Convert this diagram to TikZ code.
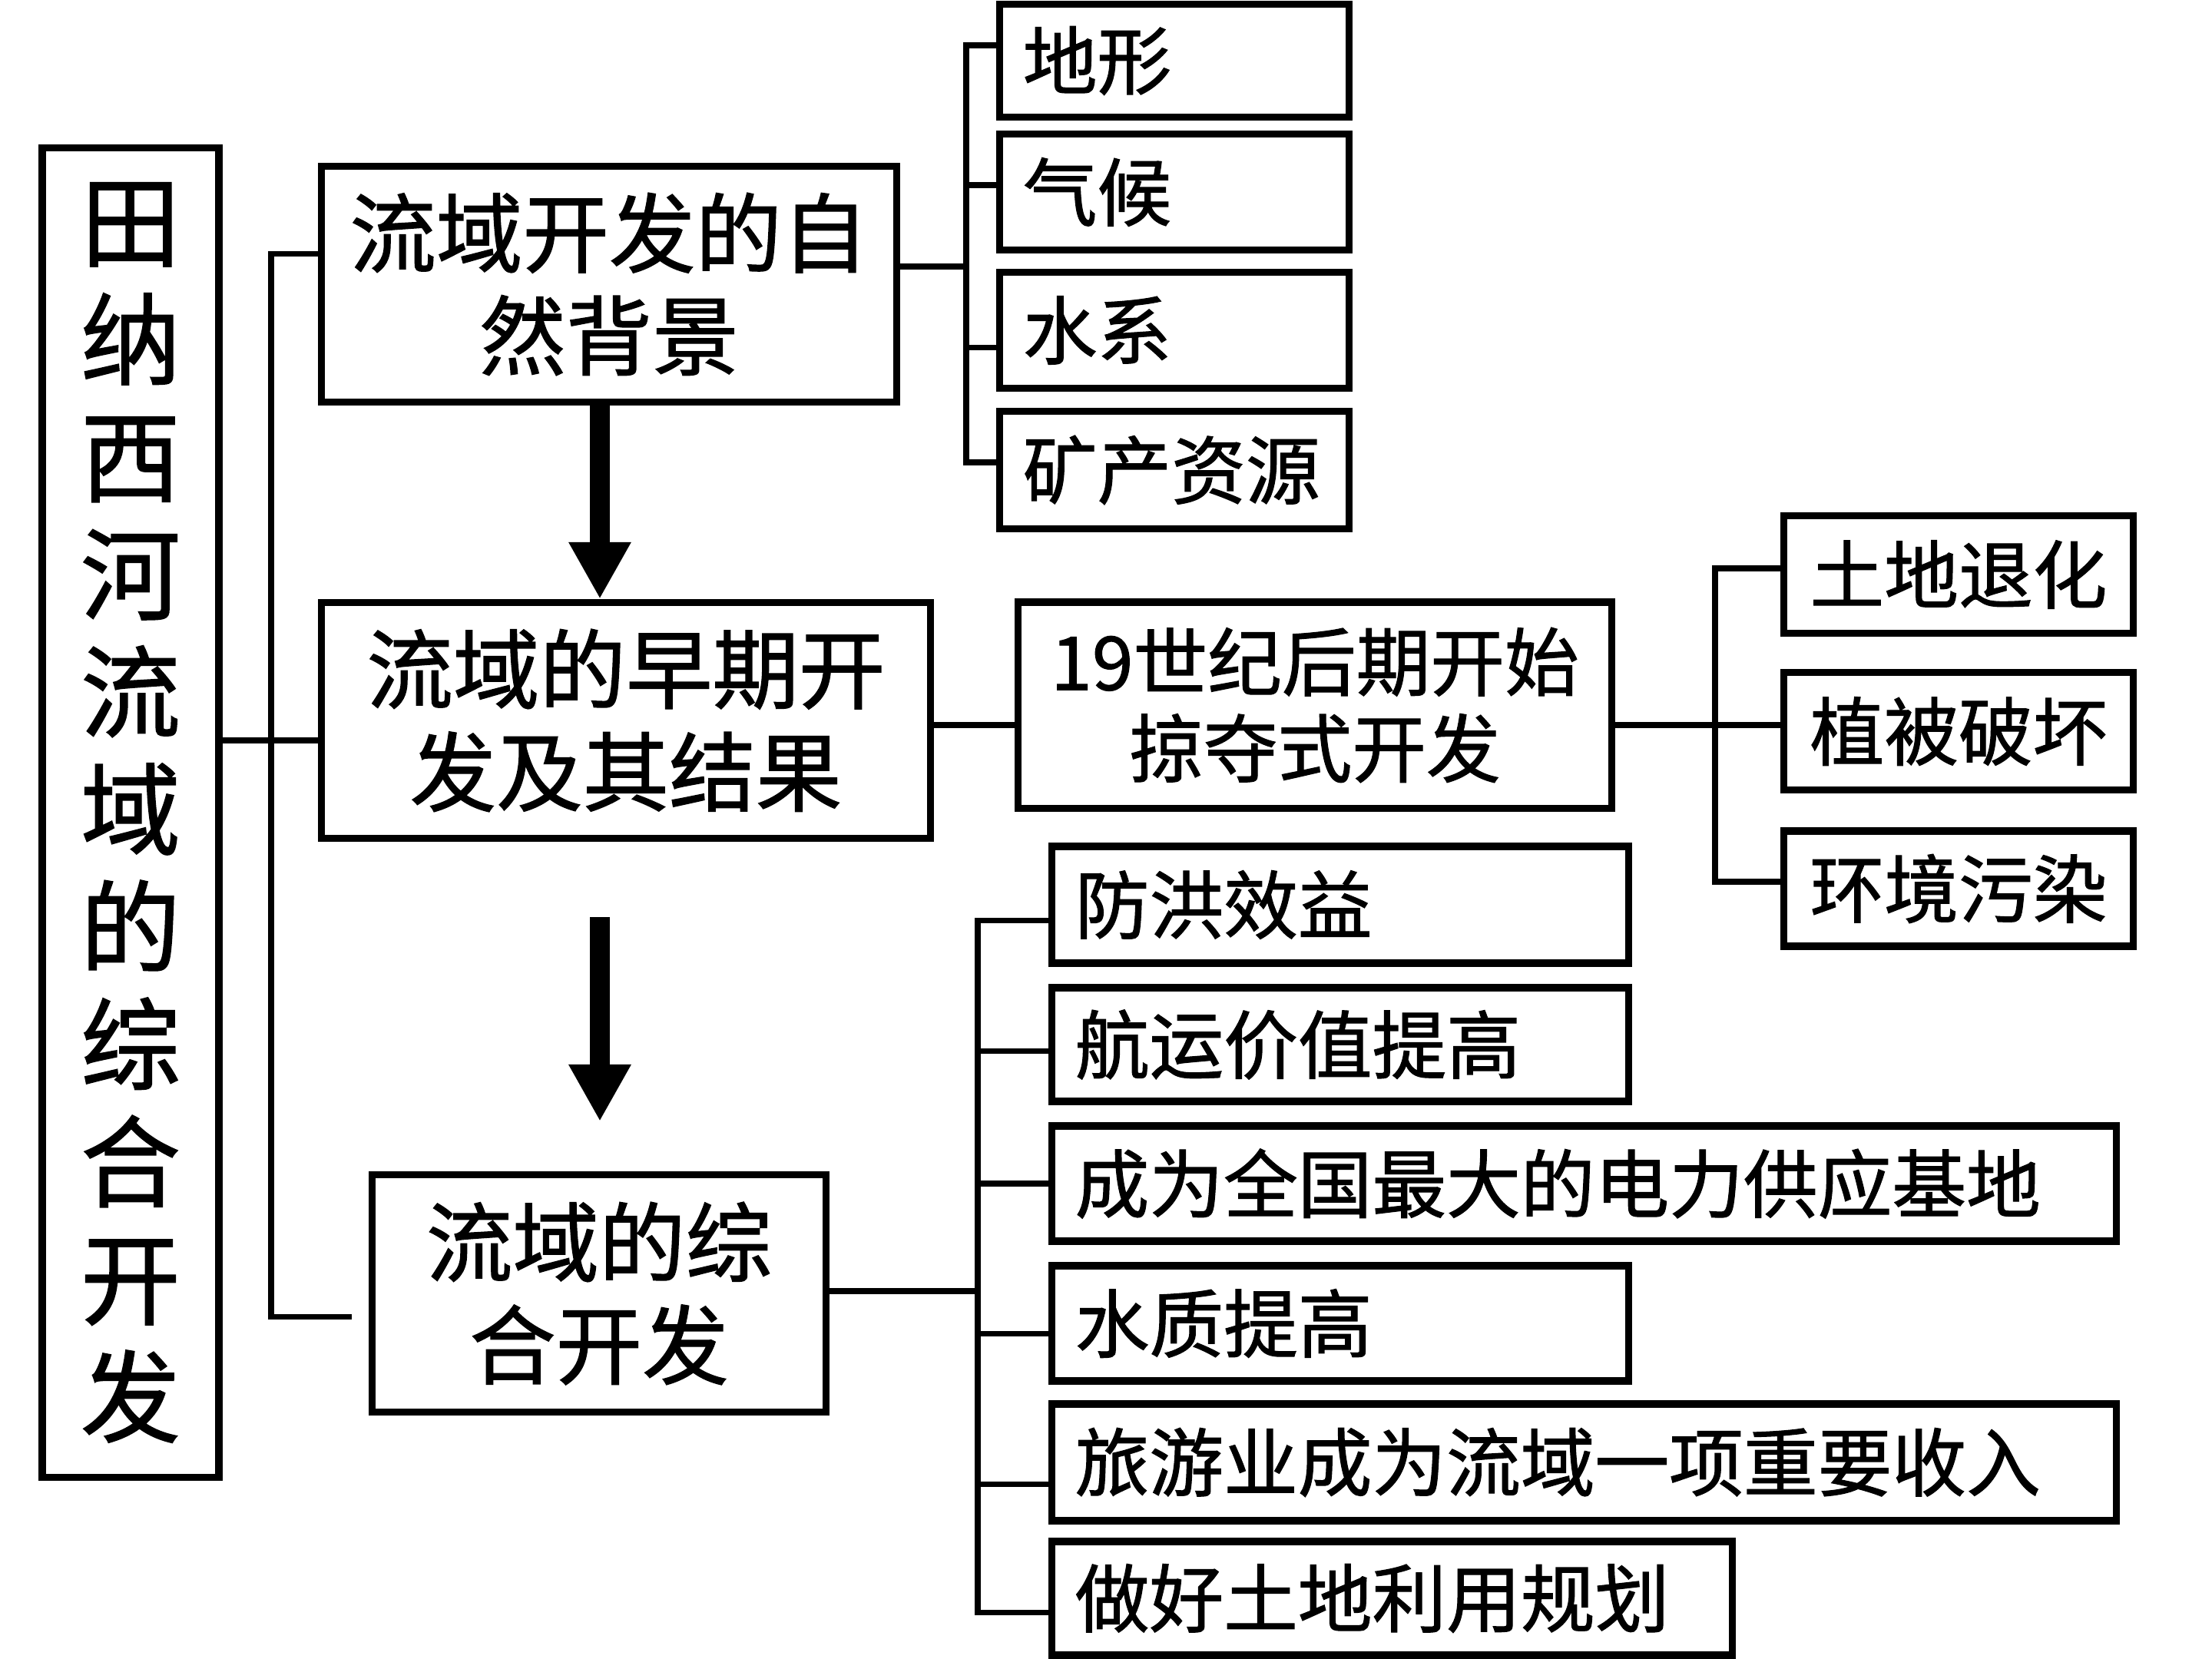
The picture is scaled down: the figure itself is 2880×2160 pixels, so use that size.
\documentclass[tikz,border=0pt]{standalone}
\usepackage{fontspec}
\newfontfamily\cjk{Noto Sans CJK SC}[FakeBold=1.2]
\usetikzlibrary{arrows.meta}
\begin{document}
\begin{tikzpicture}[x=0.01cm,y=-0.01cm,
  box/.style={draw,line width=2.6pt,inner sep=0pt,fill=white},
  mbox/.style={box,align=center,font=\cjk\fontsize{32}{38}\selectfont},
  lbox/.style={box,align=left,inner xsep=0.3cm,text width=#1,font=\cjk\fontsize{27.5}{32}\selectfont},
  cbox/.style={box,align=center,font=\cjk\fontsize{27.5}{32}\selectfont},
  conn/.style={draw,line width=2pt},
  bigarrow/.style={line width=7.2pt,-{Triangle[width=0.76cm,length=0.74cm]}}]
\useasboundingbox (0,0) rectangle (2880,2160);

% title
\node[box,minimum width=2.30cm,minimum height=17.30cm,align=center,
      font=\cjk\fontsize{37}{43.5}\selectfont] (title) at (170,1058)
  {田\\纳\\西\\河\\流\\域\\的\\综\\合\\开\\发};

% main boxes
\node[mbox,minimum width=7.49cm,minimum height=3.06cm] (b1) at (793,370) {流域开发的自\\然背景};
\node[mbox,minimum width=7.93cm,minimum height=3.07cm] (b2) at (815,938) {流域的早期开\\发及其结果};
\node[mbox,minimum width=5.91cm,minimum height=3.09cm] (b3) at (780,1684) {流域的综\\合开发};

% natural background
\node[lbox=3.94cm,minimum height=1.47cm] (dx) at (1529,79) {地形};
\node[lbox=3.94cm,minimum height=1.51cm] (qh) at (1529,250) {气候};
\node[lbox=3.94cm,minimum height=1.51cm] (sx) at (1529,430) {水系};
\node[lbox=3.94cm,minimum height=1.53cm] (kc) at (1529,612) {矿产资源};

% early development
\node[cbox,minimum width=7.72cm,minimum height=2.68cm] (qd) at (1712,918) {19世纪后期开始\\掠夺式开发};
\node[cbox,minimum width=4.54cm,minimum height=1.53cm] (td) at (2550,748) {土地退化};
\node[cbox,minimum width=4.54cm,minimum height=1.53cm] (zb) at (2550,952) {植被破坏};
\node[cbox,minimum width=4.54cm,minimum height=1.50cm] (hj) at (2550,1157) {环境污染};

% comprehensive development
\node[lbox=6.90cm,minimum height=1.52cm] (fh) at (1745,1178) {防洪效益};
\node[lbox=6.90cm,minimum height=1.48cm] (hy) at (1745,1360) {航运价值提高};
\node[lbox=13.25cm,minimum height=1.50cm] (cw) at (2062.5,1541) {成为全国最大的电力供应基地};
\node[lbox=6.90cm,minimum height=1.50cm] (sz) at (1745,1723) {水质提高};
\node[lbox=13.25cm,minimum height=1.52cm] (ly) at (2062.5,1904) {旅游业成为流域一项重要收入};
\node[lbox=8.25cm,minimum height=1.48cm] (zh) at (1812.5,2081) {做好土地利用规划};

% junctions
\coordinate (lb) at (353,964);
\coordinate (rb1) at (1258,347);
\coordinate (rb2) at (2233,944);
\coordinate (rb3) at (1273,1681);
\coordinate (ax) at (781,0);
\coordinate (a2s) at (781,1194);
\coordinate (a2e) at (781,1460);

% left bracket
\draw[conn] (title.east |- lb) -- (b2.west |- lb);
\draw[conn] ([yshift=0.39cm]b1.west) -| (lb);
\draw[conn] ([xshift=-0.22cm,yshift=-0.30cm]b3.west) -| (lb);

% bracket 1
\draw[conn] (b1.east |- rb1) -- (rb1);
\draw[conn] ([yshift=0.20cm]dx.west) -| (rb1);
\draw[conn] ([yshift=0.09cm]qh.west) -| (rb1);
\draw[conn] ([yshift=-0.22cm]sx.west) -| (rb1);
\draw[conn] ([yshift=0.10cm]kc.west) -| (rb1);

% bracket 2
\draw[conn] (b2.east |- rb2) -- (qd.west |- rb2);
\draw[conn] (zb.west |- rb2) -- (qd.east |- rb2);
\draw[conn] ([yshift=0.08cm]td.west) -| (rb2);
\draw[conn] ([yshift=0.09cm]hj.west) -| (rb2);

% bracket 3
\draw[conn] (b3.east |- rb3) -- (rb3);
\draw[conn] ([yshift=-0.20cm]fh.west) -| (rb3);
\draw[conn] ([yshift=-0.08cm]hy.west) -| (rb3);
\draw[conn] (cw.west) -| (rb3);
\draw[conn] ([yshift=-0.13cm]sz.west) -| (rb3);
\draw[conn] ([yshift=-0.28cm]ly.west) -| (rb3);
\draw[conn] ([yshift=-0.18cm]zh.west) -| (rb3);

% arrows
\draw[bigarrow] (b1.south -| ax) -- (b2.north -| ax);
\draw[bigarrow] (a2s) -- (a2e);
\end{tikzpicture}
\end{document}
